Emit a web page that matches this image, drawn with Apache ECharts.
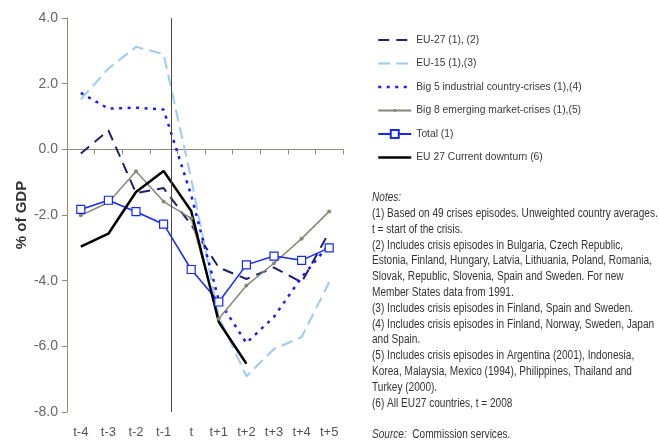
<!DOCTYPE html>
<html>
<head>
<meta charset="utf-8">
<script src="https://cdn.jsdelivr.net/npm/echarts@6/dist/echarts.min.js"></script>
<style>html,body{margin:0;padding:0;background:#fff;}#c{width:659px;height:441px;}</style>
</head>
<body>
<div id="c"></div>
<script>
const categories = ['t-4','t-3','t-2','t-1','t','t+1','t+2','t+3','t+4','t+5'];
const eu27 = [-0.13, 0.58, -1.33, -1.18, -2.3, -3.6, -3.95, -3.6, -4.05, -2.52];
const eu15 = [1.52, 2.46, 3.12, 2.9, -0.9, -5.1, -6.91, -6.08, -5.72, -4.05];
const big5 = [1.72, 1.24, 1.27, 1.21, -1.4, -4.6, -5.9, -5.1, -3.9, -2.9];
const big8 = [-2.01, -1.62, -0.67, -1.59, -2.1, -5.16, -4.15, -3.47, -2.72, -1.89];
const total = [-1.83, -1.55, -1.9, -2.28, -3.66, -4.65, -3.52, -3.25, -3.38, -3.0];
const current = [-2.96, -2.57, -1.3, -0.66, -1.88, -5.26, -6.53, null, null, null];
const seriesNames = ['EU-27 (1), (2)', 'EU-15 (1),(3)', 'Big 5 industrial country-crises (1),(4)',
  'Big 8 emerging market-crises (1),(5)', 'Total (1)', 'EU 27 Current downturn (6)'];
const crisisStart = 3.28; // vertical marker between t-1 and t (category index units)
const yMin = -8, yMax = 4, yStep = 2;
const noteLines = [
  '(1) Based on 49 crises episodes. Unweighted country averages.',
  't = start of the crisis.',
  '(2) Includes crisis episodes in Bulgaria, Czech Republic,',
  'Estonia, Finland, Hungary, Latvia, Lithuania, Poland, Romania,',
  'Slovak, Republic, Slovenia, Spain and Sweden. For new',
  'Member States data from 1991.',
  '(3) Includes crisis episodes in Finland, Spain and Sweden.',
  '(4) Includes crisis episodes in Finland, Norway, Sweden, Japan',
  'and Spain.',
  '(5) Includes crisis episodes in Argentina (2001), Indonesia,',
  'Korea, Malaysia, Mexico (1994), Philippines, Thailand and',
  'Turkey (2000).',
  '(6) All EU27 countries, t = 2008'
];

const C = {eu27: '#1f2070', eu15: '#9ccbf7', big5: '#1a1aff', big8: '#86867a', total: '#1428ff', cur: '#000'};
const D = {eu27: [11, 7], eu15: [12, 6], big5: [3, 5.5]};
const sans = "'Liberation Sans', Arial, sans-serif";
// small dot inside a 10x10 box so the dot stays small in the legend too
const smallDot = 'path://M0 0M10 10M3 5a2 2 0 1 0 4 0a2 2 0 1 0 -4 0Z';
const chart = echarts.init(document.getElementById('c'), null, {renderer: 'canvas'});
const notesText = '{i|Notes:}\n' + noteLines.join('\n') + '\n\n{i|Source:}  Commission services.';

chart.setOption({
  animation: false,
  backgroundColor: '#fff',
  grid: {left: 67, right: 316, top: 18, bottom: 29, containLabel: false},
  legend: {
    orient: 'vertical', left: 377, top: 33, padding: 0,
    itemWidth: 33, itemHeight: 10, itemGap: 9.5,
    textStyle: {fontFamily: sans, fontSize: 10.3, color: '#3a3a3a', lineHeight: 14},
    data: [
      {name: seriesNames[0], itemStyle: {opacity: 0}, lineStyle: {type: D.eu27, width: 2, color: C.eu27}},
      {name: seriesNames[1], itemStyle: {opacity: 0}, lineStyle: {type: D.eu15, width: 2, color: C.eu15}},
      {name: seriesNames[2], itemStyle: {opacity: 0}, lineStyle: {type: D.big5, width: 2.5, color: C.big5}},
      {name: seriesNames[3]},
      {name: seriesNames[4]},
      {name: seriesNames[5], itemStyle: {opacity: 0}, lineStyle: {width: 2.5, color: C.cur}}
    ]
  },
  xAxis: [
    {type: 'category', data: categories, position: 'bottom', boundaryGap: true,
     axisLine: {show: false, onZero: false}, axisTick: {show: false},
     axisLabel: {fontFamily: sans, fontSize: 13, color: '#555', margin: 14}},
    {type: 'category', data: categories, position: 'top', boundaryGap: true,
     axisLine: {show: true, onZero: true, lineStyle: {color: '#8c8c7c', width: 1}},
     axisTick: {show: true, inside: true, length: 5, lineStyle: {color: '#8c8c7c'}},
     axisLabel: {show: false}},
    {type: 'value', min: -0.5, max: categories.length - 0.5, show: false}
  ],
  yAxis: {
    type: 'value', min: yMin, max: yMax, interval: yStep,
    name: '% of GDP', nameLocation: 'middle', nameGap: 38,
    nameTextStyle: {fontFamily: sans, fontSize: 15, fontWeight: 'bold', color: '#333'},
    axisLine: {show: true, onZero: false, lineStyle: {color: '#8c8c7c', width: 1}},
    axisTick: {show: true, length: 5, lineStyle: {color: '#8c8c7c'}},
    splitLine: {show: false},
    axisLabel: {fontFamily: sans, fontSize: 14, color: '#666', margin: 9,
      formatter: v => v.toFixed(1)}
  },
  graphic: [{
    type: 'text', x: 372, y: 190, scaleX: 0.84,
    style: {x: 0, y: 0, text: notesText, fontFamily: sans, fontSize: 12, lineHeight: 15.8, fill: '#333',
      rich: {i: {fontStyle: 'italic', fontFamily: sans, fontSize: 12, lineHeight: 15.8, fill: '#333'}}}
  }],
  series: [
    {name: seriesNames[0], type: 'line', data: eu27, symbol: 'none',
     lineStyle: {color: C.eu27, width: 2, type: D.eu27}, itemStyle: {color: C.eu27}},
    {name: seriesNames[1], type: 'line', data: eu15, symbol: 'none',
     lineStyle: {color: C.eu15, width: 2, type: D.eu15}, itemStyle: {color: C.eu15}},
    {name: seriesNames[2], type: 'line', data: big5, symbol: 'none',
     lineStyle: {color: C.big5, width: 2.5, type: D.big5}, itemStyle: {color: C.big5}},
    {name: seriesNames[3], type: 'line', data: big8, symbol: smallDot, symbolSize: 10,
     lineStyle: {color: C.big8, width: 1.5}, itemStyle: {color: C.big8}},
    {name: seriesNames[4], type: 'line', data: total, symbol: 'rect', symbolSize: 8,
     lineStyle: {color: C.total, width: 1.5},
     itemStyle: {color: '#fff', borderColor: C.total, borderWidth: 1.2}},
    {name: seriesNames[5], type: 'line', data: current, symbol: 'none', connectNulls: false,
     lineStyle: {color: C.cur, width: 2.5}, itemStyle: {color: C.cur}},
    {name: 'marker', type: 'line', xAxisIndex: 2, data: [], symbol: 'none', silent: true,
     markLine: {symbol: 'none', silent: true, label: {show: false},
       lineStyle: {color: '#4a4a3c', width: 1, type: 'solid'},
       data: [{xAxis: crisisStart}]}}
  ]
});
</script>
</body>
</html>
